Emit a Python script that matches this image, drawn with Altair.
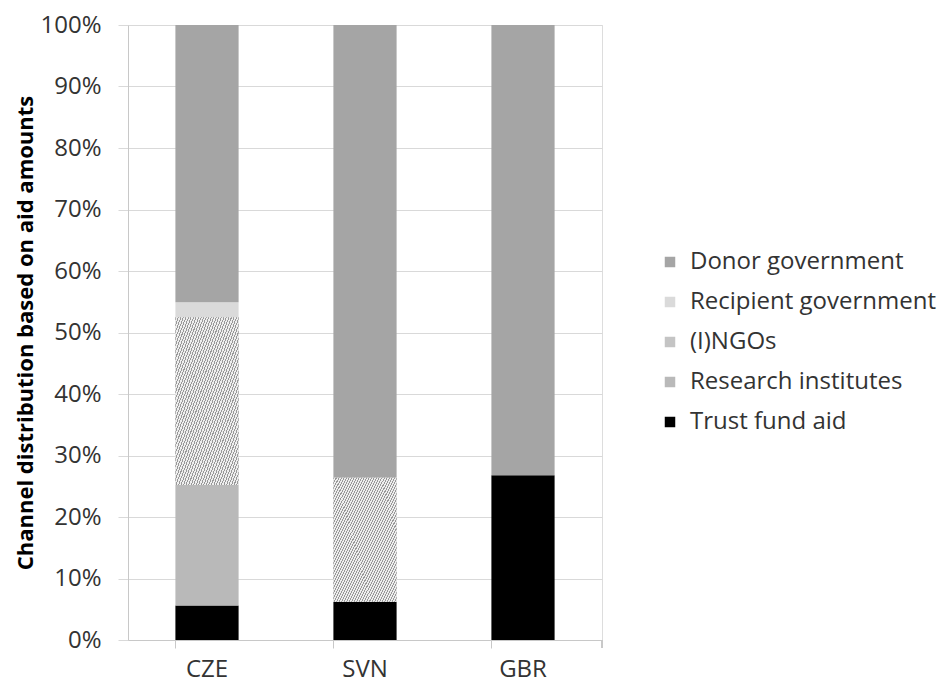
import altair as alt
import pandas as pd

countries = ["CZE", "SVN", "GBR"]
channels_bottom_up = ["Trust fund aid", "Research institutes", "(I)NGOs",
                      "Recipient government", "Donor government"]
legend_order = ["Donor government", "Recipient government", "(I)NGOs",
                "Research institutes", "Trust fund aid"]

# percentages per country (CZE, SVN, GBR)
trust = [5.6, 6.2, 26.8]
research = [19.6, 0.0, 0.0]
ngos = [27.3, 20.2, 0.0]
recipient = [2.4, 0.0, 0.0]
donor = [45.1, 73.6, 73.2]

series = {
    "Trust fund aid": trust,
    "Research institutes": research,
    "(I)NGOs": ngos,
    "Recipient government": recipient,
    "Donor government": donor,
}

rows = []
for ci, c in enumerate(countries):
    acc = 0.0
    for ch in channels_bottom_up:
        v = series[ch][ci] / 100.0
        if v > 0:
            rows.append({"country": c, "channel": ch, "start": acc, "end": acc + v, "share": v})
        acc += v
df = pd.DataFrame(rows)

colors = ["#a5a5a5", "#dadada", "#c4c4c4", "#b9b9b9", "#000000"]

FONT = "Open Sans"
FS = 24

xenc = alt.X("country:N", sort=countries, title=None,
             scale=alt.Scale(paddingInner=0.6, paddingOuter=0.3),
             axis=alt.Axis(labelAngle=0, bandPosition=0, tickSize=8, tickColor="#c8c8c8",
                           domainColor="#c8c8c8", labelFontSize=FS, labelColor="#333333",
                           labelPadding=9, labelFont=FONT))
yenc = alt.Y("start:Q", title="Channel distribution based on aid amounts",
             scale=alt.Scale(domain=[0, 1], nice=False),
             axis=alt.Axis(values=[i / 10 for i in range(11)], format=".0%",
                           grid=True, gridColor="#d9d9d9", tickColor="#d9d9d9",
                           tickSize=10, domainColor="#c8c8c8", labelFontSize=FS,
                           labelColor="#333333", labelPadding=17, labelFont=FONT,
                           titleFontSize=22, titleFontWeight="bold", titleColor="#000000",
                           titleFont=FONT, titlePadding=2))

bars = alt.Chart(df).mark_bar().encode(
    x=xenc,
    y=yenc,
    y2="end:Q",
    color=alt.Color("channel:N",
                    scale=alt.Scale(domain=legend_order, range=colors),
                    legend=alt.Legend(title=None, orient="none", legendX=530, legendY=225,
                                      symbolType="square", symbolSize=110,
                                      symbolStrokeWidth=0, labelFontSize=FS,
                                      labelFont=FONT, labelColor="#333333",
                                      labelLimit=0, rowPadding=16, labelOffset=8)),
)

N = 50
stops = []
for i in range(N):
    a = i / N
    b = (i + 0.4) / N
    e = (i + 1) / N
    stops += [alt.GradientStop(color="#989898", offset=a),
              alt.GradientStop(color="#989898", offset=b),
              alt.GradientStop(color="#eeeeee", offset=b),
              alt.GradientStop(color="#eeeeee", offset=e)]
hatch = alt.LinearGradient(gradient="linear", stops=stops, x1=0, y1=0, x2=1, y2=1)

hatched = alt.Chart(df[df["channel"] == "(I)NGOs"]).mark_bar(fill=hatch).encode(
    x=alt.X("country:N", sort=countries), y=alt.Y("start:Q"), y2="end:Q")

end_tick = alt.Chart(df).mark_rule(color="#c8c8c8").encode(
    x=alt.value(474), y=alt.value(615), y2=alt.value(623))

chart = alt.layer(bars, hatched, end_tick).properties(
    width=474, height=615,
    autosize=alt.AutoSizeParams(type="none"),
    padding={"left": 120, "top": 17, "right": 338, "bottom": 45},
).configure_view(stroke=None).configure(font=FONT)

chart.save("out.html", embed_options={"renderer": "svg", "actions": False})
